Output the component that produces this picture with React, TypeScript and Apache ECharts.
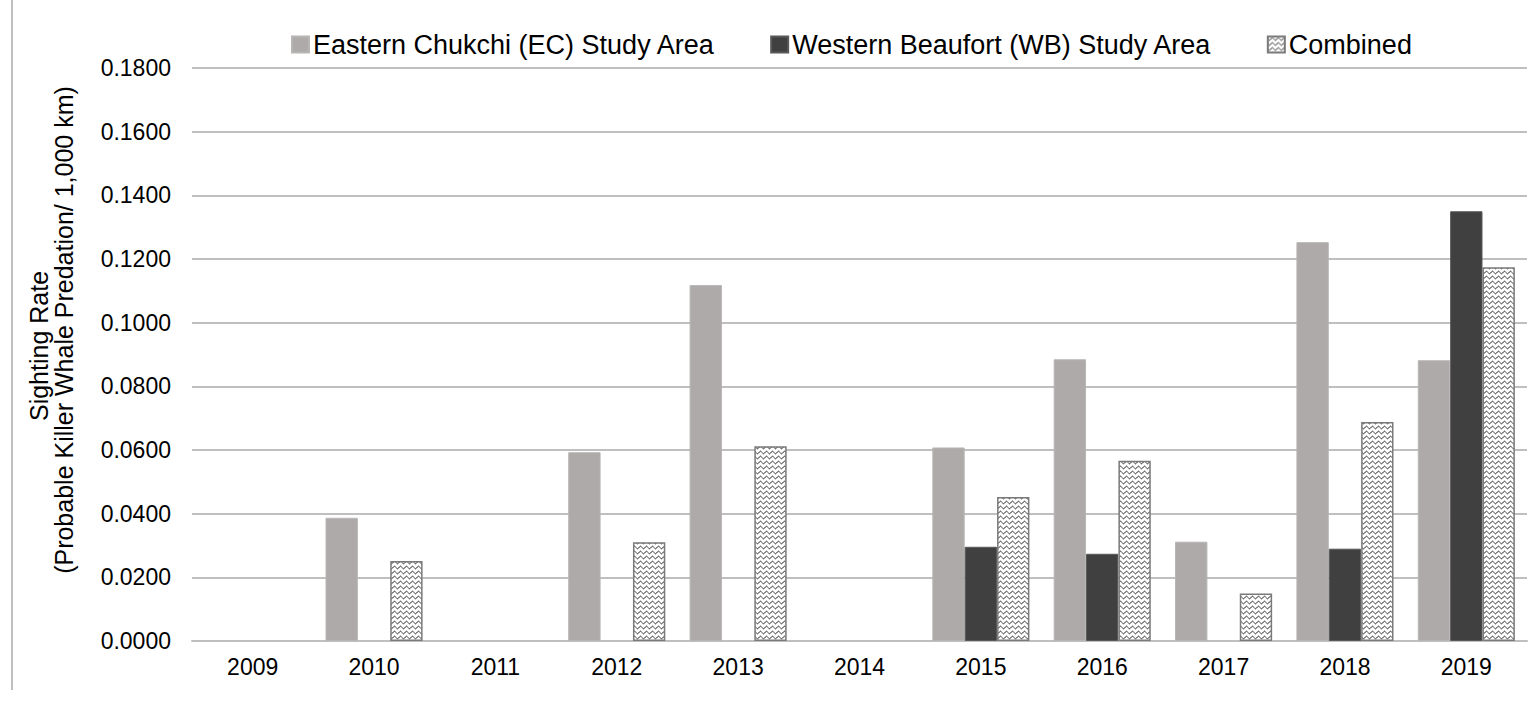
import React, { useEffect, useRef } from "react";
import * as echarts from "echarts";

const years = ["2009", "2010", "2011", "2012", "2013", "2014", "2015", "2016", "2017", "2018", "2019"];
const eastChukchi = [null, 0.0387, null, 0.0593, 0.1118, null, 0.0608, 0.0885, 0.0312, 0.1253, 0.0882];
const westBeaufort = [null, null, null, null, null, null, 0.0296, 0.0274, null, 0.029, 0.135];
const combined = [null, 0.0251, null, 0.031, 0.0612, null, 0.0452, 0.0566, 0.0149, 0.0688, 0.1174];
const yTicks = { min: 0, max: 0.18, interval: 0.02 };
const yTitleLines = ["Sighting Rate", "(Probable Killer Whale Predation/ 1,000 km)"];

function makePattern(): HTMLCanvasElement {
  const c = document.createElement("canvas");
  c.width = 6;
  c.height = 5;
  const ctx = c.getContext("2d")!;
  ctx.fillStyle = "#ffffff";
  ctx.fillRect(0, 0, 6, 5);
  ctx.strokeStyle = "#1a1a1a";
  ctx.lineWidth = 1;
  ctx.beginPath();
  for (let x = 0; x <= 6; x += 0.5) {
    const y = 2.5 + 1.3 * Math.sin((x / 6) * Math.PI * 2);
    if (x === 0) ctx.moveTo(x, y);
    else ctx.lineTo(x, y);
  }
  ctx.stroke();
  return c;
}

export default function App() {
  const ref = useRef<HTMLDivElement>(null);
  useEffect(() => {
    document.body.style.margin = "0";
    const chart = echarts.init(ref.current!, null, { renderer: "svg" });
    const pattern = makePattern();
    const font = "'Liberation Sans', Arial, sans-serif";
    chart.setOption({
      animation: false,
      backgroundColor: "#ffffff",
      textStyle: { fontFamily: font },
      legend: {
        top: 26,
        left: 286,
        itemWidth: 17,
        itemHeight: 16,
        itemGap: 55,
        textStyle: { fontSize: 27, color: "#000", fontFamily: font, padding: [0, 0, 0, -1] },
        data: [
          { name: "Eastern Chukchi (EC) Study Area", icon: "rect" },
          { name: "Western Beaufort (WB) Study Area", icon: "rect" },
          { name: "Combined", icon: "rect" },
        ],
      },
      grid: { left: 192, right: 7, top: 68, bottom: 60, containLabel: false },
      xAxis: {
        type: "category",
        data: years,
        axisLine: { lineStyle: { color: "#bfbfbf", width: 2 } },
        axisTick: { show: false },
        axisLabel: { fontSize: 23, color: "#000", margin: 14, fontFamily: font },
      },
      yAxis: {
        type: "value",
        min: yTicks.min,
        max: yTicks.max,
        interval: yTicks.interval,
        axisLine: { show: false },
        axisTick: { show: false },
        splitLine: { lineStyle: { color: "#bfbfbf", width: 2 } },
        axisLabel: {
          fontSize: 23,
          color: "#000",
          margin: 21,
          fontFamily: font,
          formatter: (v: number) => v.toFixed(4),
        },
      },
      series: [
        {
          name: "Eastern Chukchi (EC) Study Area",
          type: "bar",
          data: eastChukchi,
          barGap: "0%",
          barCategoryGap: "20%",
          itemStyle: { color: "#ADAAA9", borderColor: "#b8b6b5", borderWidth: 1 },
        },
        {
          name: "Western Beaufort (WB) Study Area",
          type: "bar",
          data: westBeaufort,
          barGap: "0%",
          barCategoryGap: "20%",
          itemStyle: { color: "#404040", borderColor: "#595959", borderWidth: 1 },
        },
        {
          name: "Combined",
          type: "bar",
          data: combined,
          barGap: "0%",
          barCategoryGap: "20%",
          itemStyle: {
            color: { image: pattern, repeat: "repeat" },
            borderColor: "#7a7a7a",
            borderWidth: 1.5,
          },
        },
      ],
      graphic: [
        {
          type: "line",
          shape: { x1: 12, y1: 0, x2: 12, y2: 690 },
          style: { stroke: "#bfbfbf", lineWidth: 2 },
        },
        {
          type: "text",
          x: 39,
          y: 346,
          rotation: Math.PI / 2,
          style: {
            text: yTitleLines[0],
            align: "center",
            verticalAlign: "middle",
            fontSize: 25,
            fontFamily: font,
            fill: "#000",
          },
        },
        {
          type: "text",
          x: 64,
          y: 330,
          rotation: Math.PI / 2,
          style: {
            text: yTitleLines[1],
            align: "center",
            verticalAlign: "middle",
            fontSize: 25,
            fontFamily: font,
            fill: "#000",
          },
        },
      ],
    });
    return () => chart.dispose();
  }, []);
  return <div ref={ref} style={{ width: 1534, height: 701 }} />;
}
